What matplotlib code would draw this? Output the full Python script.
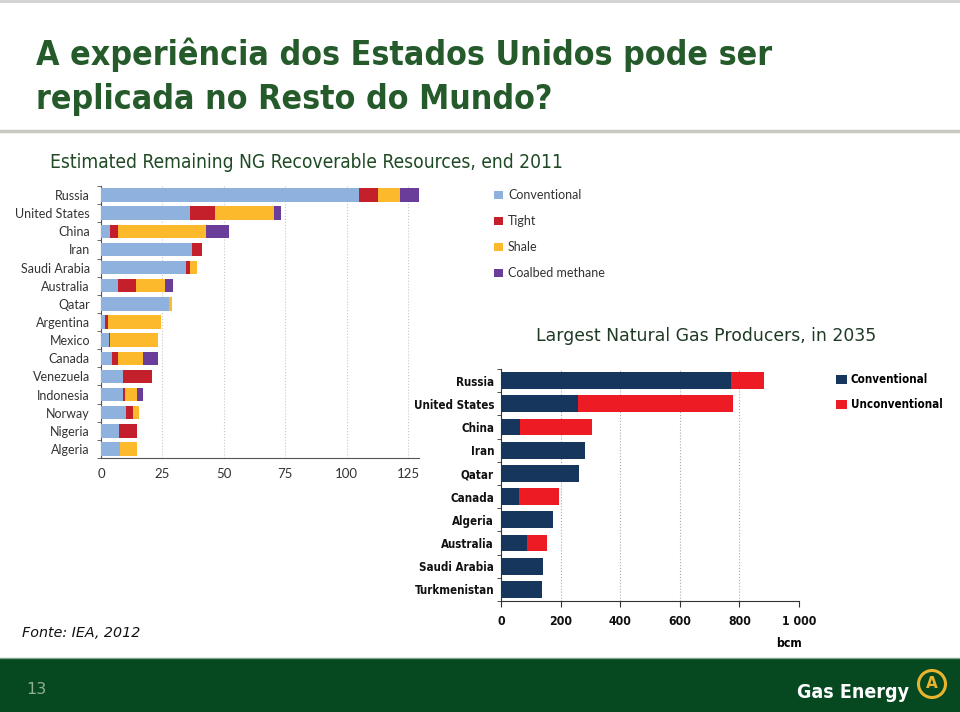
import matplotlib.pyplot as plt
import matplotlib.patches as patches
import numpy as np

# Left chart: estimated remaining recoverable resources, end 2011 (tcm)
countries_res = ["Russia", "United States", "China", "Iran", "Saudi Arabia", "Australia", "Qatar",
                 "Argentina", "Mexico", "Canada", "Venezuela", "Indonesia", "Norway", "Nigeria", "Algeria"]
conventional = [105.0, 36.2, 3.8, 37.2, 34.8, 6.9, 27.5, 1.8, 3.3, 4.5, 8.9, 9.1, 10.2, 7.2, 7.9]
tight = [7.8, 10.3, 3.2, 4.1, 1.5, 7.5, 0.3, 1.0, 0.5, 2.5, 11.7, 0.5, 2.8, 7.6, 0.0]
shale = [8.8, 23.8, 35.7, 0.0, 2.7, 11.5, 1.0, 21.8, 19.5, 10.3, 0.0, 4.9, 2.3, 0.0, 6.9]
coalbed = [17.9, 3.0, 9.3, 0.0, 0.0, 3.6, 0.0, 0.0, 0.0, 6.0, 0.0, 2.7, 0.0, 0.0, 0.0]
res_ticks = [0, 25, 50, 75, 100, 125]

# Right chart: largest producers in 2035 (bcm)
countries_prod = ["Russia", "United States", "China", "Iran", "Qatar", "Canada", "Algeria",
                  "Australia", "Saudi Arabia", "Turkmenistan"]
prod_conv = [773, 257, 65, 282, 263, 61, 173, 86, 141, 136]
prod_unconv = [109, 522, 240, 0, 0, 133, 0, 70, 0, 0]
prod_ticks = [0, 200, 400, 600, 800, 1000]
prod_ticklabels = ["0", "200", "400", "600", "800", "1 000"]

GREEN = "#255a2b"
COND = {"family": "DejaVu Sans", "stretch": "condensed"}
W, H = 960, 712

fig = plt.figure(figsize=(9.6, 7.12), dpi=100)
fig.patch.set_facecolor("white")

def fx(px):
    return px / W

def fy(py):
    return 1 - py / H

# slide frame
fig.add_artist(plt.Line2D([0, 1], [fy(1), fy(1)], color="#d0d0d0", lw=2))
fig.add_artist(plt.Line2D([0, 1], [fy(131), fy(131)], color="#c8c8c0", lw=2.5))
fig.add_artist(patches.Rectangle((0, 0), 1, fy(659), transform=fig.transFigure,
                                 facecolor="#06481f", edgecolor="none"))
fig.add_artist(plt.Line2D([0, 1], [fy(658), fy(658)], color="#7fa88a", lw=1))

fig.text(fx(36), fy(55), "A experiência dos Estados Unidos pode ser", fontsize=24.3,
         fontweight="bold", color=GREEN, va="center", **COND)
fig.text(fx(36), fy(99), "replicada no Resto do Mundo?", fontsize=24.3,
         fontweight="bold", color=GREEN, va="center", **COND)
fig.text(fx(50), fy(162), "Estimated Remaining NG Recoverable Resources, end 2011", fontsize=13.8,
         color="#1f4a25", va="center", **COND)
fig.text(fx(536), fy(336), "Largest Natural Gas Producers, in 2035", fontsize=12.4,
         color="#1f3a24", family="DejaVu Sans", va="center")
fig.text(fx(22), fy(633), "Fonte: IEA, 2012", fontsize=10.3, style="italic",
         color="#111111", family="DejaVu Sans", va="center")
fig.text(fx(26), fy(690), "13", fontsize=11.5, color="#8fae95", family="DejaVu Sans", va="center")
fig.text(fx(797), fy(692), "Gas Energy", fontsize=14, fontweight="bold", color="white",
         va="center", **COND)
fig.add_artist(patches.Ellipse((fx(932), fy(684)), fx(27), 27 / H, transform=fig.transFigure,
                               facecolor="none", edgecolor="#e9b52f", lw=2.2))
fig.text(fx(932), fy(684), "A", fontsize=11, fontweight="bold", color="#e9b52f",
         ha="center", va="center", family="DejaVu Sans")

# ---- left chart
ax1 = fig.add_axes([fx(101), fy(458), fx(318), (458 - 186) / H])
y1 = np.arange(len(countries_res))
left = np.zeros(len(countries_res))
series = [(conventional, "#8fb1dd", "Conventional"), (tight, "#c4202b", "Tight"),
          (shale, "#fcb92c", "Shale"), (coalbed, "#6a3d9a", "Coalbed methane")]
handles = []
for vals, col, lab in series:
    b = ax1.barh(y1, vals, left=left, height=0.74, color=col, label=lab, zorder=3)
    handles.append(b)
    left = left + np.array(vals)
ax1.set_ylim(len(countries_res) - 0.5, -0.5)
ax1.set_xlim(0, 129.5)
ax1.set_yticks(y1)
ax1.set_yticklabels(countries_res, fontsize=9, color="#333333", family="Lato")
ax1.set_yticks(np.arange(-0.5, len(countries_res), 1), minor=True)
ax1.tick_params(axis="y", which="major", length=0, pad=8)
ax1.tick_params(axis="y", which="minor", length=3, color="#555555")
ax1.set_xticks(res_ticks)
ax1.set_xticklabels([str(t) for t in res_ticks], fontsize=9.5, color="#333333", family="Lato")
ax1.tick_params(axis="x", length=0, pad=7)
ax1.grid(axis="x", linestyle=":", color="#c8c8c8", lw=0.8, zorder=0)
for s in ["top", "right"]:
    ax1.spines[s].set_visible(False)
ax1.spines["left"].set_color("#555555")
ax1.spines["bottom"].set_color("#555555")

fig.legend(handles=handles, loc="upper left", bbox_to_anchor=(fx(483), fy(178)),
           frameon=False, prop={"family": "Lato", "size": 9}, handlelength=0.7,
           handleheight=0.7, labelspacing=1.12, handletextpad=0.4, labelcolor="#333333")

# ---- right chart
ax2 = fig.add_axes([fx(501), fy(601), fx(298), (601 - 369) / H])
y2 = np.arange(len(countries_prod))
h1 = ax2.barh(y2, prod_conv, height=0.72, color="#17365d", label="Conventional", zorder=3)
h2 = ax2.barh(y2, prod_unconv, left=prod_conv, height=0.72, color="#ed1c24",
              label="Unconventional", zorder=3)
ax2.set_ylim(len(countries_prod) - 0.5, -0.5)
ax2.set_xlim(0, 1000)
ax2.set_yticks(y2)
ax2.set_yticklabels(countries_prod, fontsize=8.3, fontweight="bold", color="#111111", **COND)
ax2.set_yticks(np.arange(-0.5, len(countries_prod), 1), minor=True)
ax2.tick_params(axis="y", which="major", length=0, pad=5)
ax2.tick_params(axis="y", which="minor", length=3, color="#333333")
ax2.set_xticks(prod_ticks)
ax2.set_xticklabels(prod_ticklabels, fontsize=8.8, fontweight="bold", color="#111111", **COND)
ax2.tick_params(axis="x", length=4, color="#333333", pad=6)
ax2.grid(axis="x", linestyle=":", color="#aaaaaa", lw=0.8, zorder=0)
for s in ["top", "right"]:
    ax2.spines[s].set_visible(False)
ax2.spines["left"].set_color("#333333")
ax2.spines["bottom"].set_color("#333333")
ax2.set_xlabel("bcm", fontsize=8.8, fontweight="bold", **COND)
ax2.xaxis.set_label_coords(0.965, -0.155)

fig.legend(handles=[h1, h2], loc="upper left", bbox_to_anchor=(fx(826), fy(363)),
           frameon=False, prop={"family": "DejaVu Sans", "stretch": "condensed", "size": 8.3,
                                "weight": "bold"},
           handlelength=0.9, handleheight=0.9, labelspacing=1.05, handletextpad=0.35)

fig.savefig("out.png", dpi=100)
